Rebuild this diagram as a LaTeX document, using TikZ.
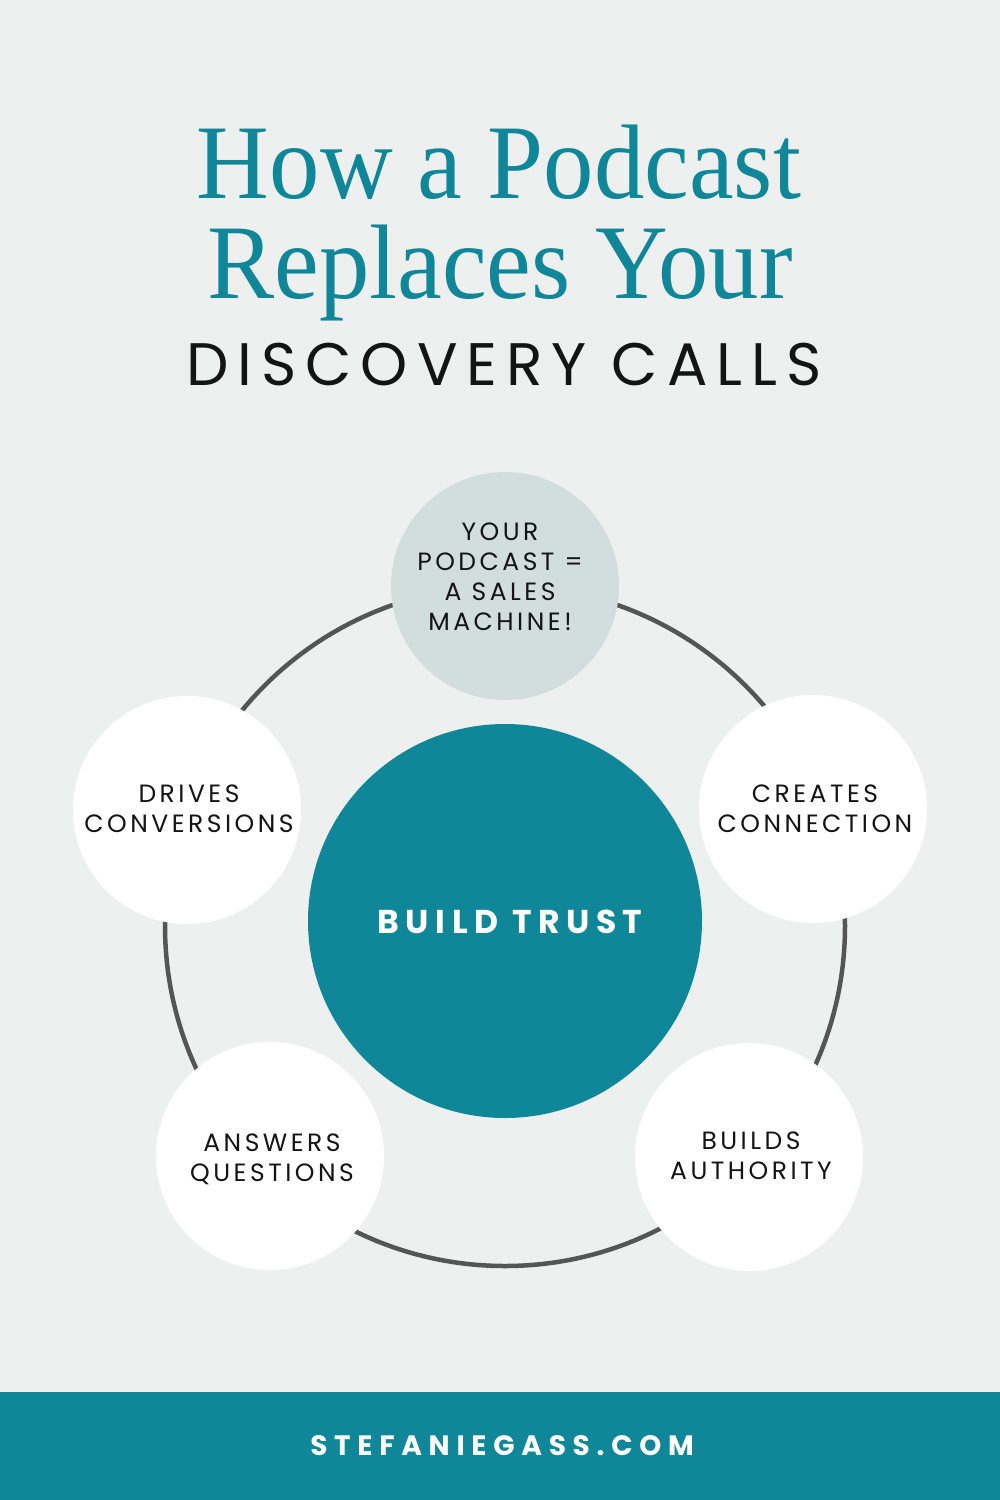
\documentclass[tikz,border=0pt]{standalone}
\usepackage{fontspec}
\usepackage{graphicx}
\setmainfont{Liberation Serif}
\newfontfamily\popC[LetterSpace=14]{Poppins}
\newfontfamily\popD[LetterSpace=15]{Poppins}
\newfontfamily\popB[LetterSpace=20]{Poppins}
\newfontfamily\popF[LetterSpace=24]{Poppins}
\definecolor{bgc}{HTML}{EEF0EF}
\definecolor{tealc}{HTML}{0F8799}
\definecolor{sagec}{HTML}{D2DEDC}
\definecolor{ringc}{HTML}{555555}
\definecolor{inkc}{HTML}{141414}
\tikzset{
  bubble/.style={circle, fill=white, minimum size=228pt, inner sep=0pt},
  lbl/.style={inner sep=0pt, align=center, text depth=0pt, anchor=south, text=inkc,
    font={\popC\fontsize{25}{30}\selectfont}},
  titlefont/.style={inner sep=0pt, anchor=base, text=tealc,
    font={\fontsize{106}{106}\selectfont}}
}
\begin{document}
\begin{tikzpicture}[x=1pt,y=-1pt]
\useasboundingbox (0,0) rectangle (1000,1500);
\fill[bgc] (0,0) rectangle (1000,1500);
\fill[tealc] (0,1392) rectangle (1000,1500);

% titles
\node[titlefont] (t1) at (499,198) {\scalebox{0.95}[1]{How a Podcast}};
\node[titlefont] (t2) at (500,298) {\scalebox{0.95}[1]{Replaces Your}};
\node[inner sep=0pt, anchor=base, text=inkc, font={\popD\fontsize{60}{60}\selectfont}] (t3) at (504,385) {DISCOVERY CALLS};

% ring
\coordinate (rc) at (505,926);
\draw[ringc, line width=4.5pt] (rc) circle[radius=340];

% circles
\node[circle, fill=tealc, minimum size=394pt, inner sep=0pt] (core) at (505,921) {};
\node[bubble, fill=sagec] (top) at (505,586) {};
\node[bubble] (left) at (187,810) {};
\node[bubble] (right) at (813,809) {};
\node[bubble] (bl) at (270,1156) {};
\node[bubble] (br) at (749,1157) {};

% labels
\node[inner sep=0pt, anchor=base, text=white, font={\popB\bfseries\fontsize{33}{33}\selectfont}] (coreT) at (510,933) {BUILD TRUST};
\node[lbl] (topT) at (500,631) {YOUR\\PODCAST =\\A SALES\\MACHINE!};
\node[lbl] (leftT) at (189,833) {DRIVES\\CONVERSIONS};
\node[lbl] (rightT) at (815,833) {CREATES\\CONNECTION};
\node[lbl] (blT) at (272,1182) {ANSWERS\\QUESTIONS};
\node[lbl] (brT) at (751,1180) {BUILDS\\AUTHORITY};

% footer
\node[inner sep=0pt, anchor=base, text=white, font={\popF\bfseries\fontsize{28}{28}\selectfont}] (foot) at (502,1455) {STEFANIEGASS.COM};
\end{tikzpicture}
\end{document}
